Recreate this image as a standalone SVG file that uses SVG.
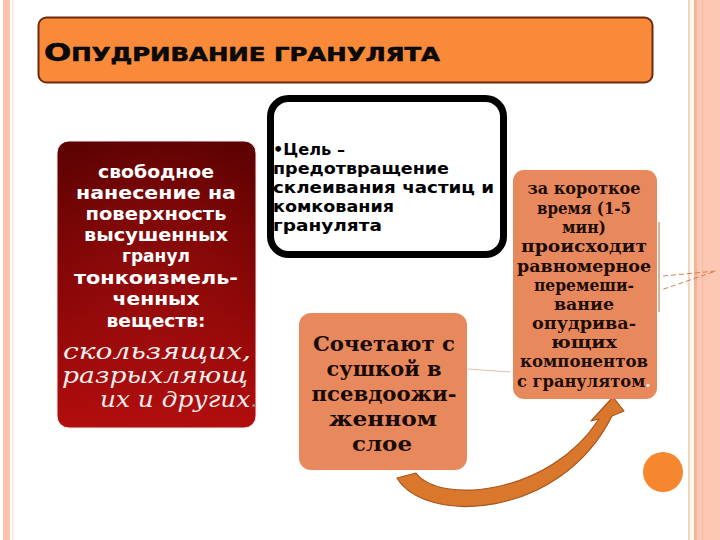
<svg xmlns="http://www.w3.org/2000/svg" width="720" height="540" viewBox="0 0 720 540">
  <defs>
    <linearGradient id="redGrad" x1="0" y1="0" x2="0" y2="1">
      <stop offset="0" stop-color="#5c0202"/>
      <stop offset="0.55" stop-color="#8a0606"/>
      <stop offset="1" stop-color="#b30d0d"/>
    </linearGradient>
    <radialGradient id="redGlow" cx="0.5" cy="0.5" r="0.6">
      <stop offset="0" stop-color="#b01818" stop-opacity="0.35"/>
      <stop offset="1" stop-color="#b01818" stop-opacity="0"/>
    </radialGradient>
    <style>
      text { }
      .sans { font-family: "DejaVu Sans", "Liberation Sans", sans-serif; font-weight: bold; }
      .serif { font-family: "DejaVu Serif", "Liberation Serif", serif; font-weight: bold; }
      .wt { fill: #ffffff; font-size: 17px; text-anchor: middle; }
      .it { fill: #f2eeee; font-family: "DejaVu Serif", "Liberation Serif", serif; font-style: italic; font-size: 22px; text-anchor: middle; }
      .bk { fill: #000000; font-size: 16px; }
      .mid { fill: #1a0a05; font-size: 21px; text-anchor: middle; }
      .rt { fill: #1e0c06; font-size: 16px; text-anchor: middle; }
      .orangeBox { fill: #e8895d; }
    </style>
  </defs>

  <!-- background and page borders -->
  <rect x="0" y="0" width="720" height="540" fill="#ffffff"/>
  <rect x="3" y="0" width="7" height="540" fill="#fcc4ac"/>
  <rect x="12" y="0" width="1.5" height="540" fill="#fde4d6"/>
  <rect x="688" y="0" width="2" height="540" fill="#f0d6c4"/>
  <rect x="690" y="0" width="4" height="540" fill="#fff6f0"/>
  <rect x="694" y="0" width="3" height="540" fill="#f2b49a"/>
  <rect x="697" y="0" width="23" height="540" fill="#fcc8b4"/>
  <rect x="702" y="0" width="1" height="540" fill="#f7b8a0"/>

  <!-- title -->
  <g id="title">
    <rect x="38.5" y="17.5" width="614" height="65" rx="8" fill="#f98a3a" stroke="#6e2a0e" stroke-width="2"/>
    <text x="44" y="61" class="sans" fill="#0a0a0a" stroke="#0a0a0a" stroke-width="0.6" textLength="396" lengthAdjust="spacingAndGlyphs"><tspan font-size="25">О</tspan><tspan font-size="19">ПУДРИВАНИЕ ГРАНУЛЯТА</tspan></text>
  </g>

  <!-- connectors -->
  <g id="connectors">
    <path d="M 397 478 C 425 525, 560 520, 612 416 L 624 411 L 613 397 L 591 421 L 599 419 C 550 495, 440 505, 416 473 Z" fill="#d9772d" stroke="#a5561e" stroke-width="1.2" stroke-linejoin="round"/>
    <line x1="468" y1="369" x2="510" y2="372" stroke="#e9bcaa" stroke-width="1"/>
    <line x1="659" y1="222" x2="659" y2="312" stroke="#b06a3a" stroke-width="1"/>
    <path d="M 663 276 L 716 271 L 661 290" fill="none" stroke="#d2804c" stroke-width="1" stroke-dasharray="5 3"/>
  </g>

  <!-- left red box -->
  <g id="node-left">
    <rect x="57" y="141" width="199" height="287" rx="12" fill="url(#redGrad)" stroke="#f4eeee" stroke-width="1"/>
    <rect x="57" y="141" width="199" height="287" rx="12" fill="url(#redGlow)"/>
    <text class="sans wt" x="156" y="178" textLength="116" lengthAdjust="spacingAndGlyphs">свободное</text>
    <text class="sans wt" x="156" y="199" textLength="160" lengthAdjust="spacingAndGlyphs">нанесение на</text>
    <text class="sans wt" x="156" y="220" textLength="141" lengthAdjust="spacingAndGlyphs">поверхность</text>
    <text class="sans wt" x="156" y="241" textLength="144" lengthAdjust="spacingAndGlyphs">высушенных</text>
    <text class="sans wt" x="156" y="262" textLength="68" lengthAdjust="spacingAndGlyphs">гранул</text>
    <text class="sans wt" x="156" y="284" textLength="164" lengthAdjust="spacingAndGlyphs">тонкоизмель-</text>
    <text class="sans wt" x="156" y="305" textLength="87" lengthAdjust="spacingAndGlyphs">ченных</text>
    <text class="sans wt" x="156" y="327" textLength="99" lengthAdjust="spacingAndGlyphs">веществ:</text>
    <text class="it" x="157" y="359" textLength="188" lengthAdjust="spacingAndGlyphs">скользящих,</text>
    <text class="it" x="155" y="383" textLength="186" lengthAdjust="spacingAndGlyphs">разрыхляющ</text>
    <text class="it" x="179" y="407" textLength="158" lengthAdjust="spacingAndGlyphs">их и других<tspan fill="#9a8a8a">.</tspan></text>
  </g>

  <!-- middle white box -->
  <g id="node-goal">
    <rect x="270.5" y="98.5" width="233" height="156" rx="18" fill="#ffffff" stroke="#000000" stroke-width="7"/>
    <text class="sans bk" x="273" y="155" textLength="72" lengthAdjust="spacingAndGlyphs">•Цель –</text>
    <text class="sans bk" x="273" y="174" textLength="176" lengthAdjust="spacingAndGlyphs">предотвращение</text>
    <text class="sans bk" x="273" y="193" textLength="221" lengthAdjust="spacingAndGlyphs">склеивания частиц и</text>
    <text class="sans bk" x="273" y="212" textLength="121" lengthAdjust="spacingAndGlyphs">комкования</text>
    <text class="sans bk" x="273" y="231" textLength="109" lengthAdjust="spacingAndGlyphs">гранулята</text>
  </g>

  <!-- middle orange box -->
  <g id="node-combine">
    <rect x="299" y="313" width="168" height="157" rx="12" class="orangeBox"/>
    <text class="serif mid" x="384" y="351" textLength="142" lengthAdjust="spacingAndGlyphs">Сочетают с</text>
    <text class="serif mid" x="384" y="376" textLength="115" lengthAdjust="spacingAndGlyphs">сушкой в</text>
    <text class="serif mid" x="384" y="401" textLength="145" lengthAdjust="spacingAndGlyphs">псевдоожи-</text>
    <text class="serif mid" x="383" y="426" textLength="108" lengthAdjust="spacingAndGlyphs">женном</text>
    <text class="serif mid" x="382" y="451" textLength="60" lengthAdjust="spacingAndGlyphs">слое</text>
  </g>

  <!-- right orange box -->
  <g id="node-time">
    <rect x="513" y="170" width="144" height="229" rx="11" class="orangeBox"/>
    <text class="serif rt" x="584" y="194" textLength="113" lengthAdjust="spacingAndGlyphs">за короткое</text>
    <text class="serif rt" x="584" y="214" textLength="94" lengthAdjust="spacingAndGlyphs">время (1-5</text>
    <text class="serif rt" x="584" y="233" textLength="44" lengthAdjust="spacingAndGlyphs">мин)</text>
    <text class="serif rt" x="584" y="252" textLength="126" lengthAdjust="spacingAndGlyphs">происходит</text>
    <text class="serif rt" x="584" y="272" textLength="134" lengthAdjust="spacingAndGlyphs">равномерное</text>
    <text class="serif rt" x="584" y="291" textLength="100" lengthAdjust="spacingAndGlyphs">перемеши-</text>
    <text class="serif rt" x="584" y="310" textLength="60" lengthAdjust="spacingAndGlyphs">вание</text>
    <text class="serif rt" x="584" y="329" textLength="104" lengthAdjust="spacingAndGlyphs">опудрива-</text>
    <text class="serif rt" x="584" y="348" textLength="66" lengthAdjust="spacingAndGlyphs">ющих</text>
    <text class="serif rt" x="584" y="367" textLength="128" lengthAdjust="spacingAndGlyphs">компонентов</text>
    <text class="serif rt" x="584" y="387" textLength="134" lengthAdjust="spacingAndGlyphs">с гранулятом<tspan fill="#f4e8e0">.</tspan></text>
  </g>

  <!-- decorative circle -->
  <circle cx="663" cy="472" r="20" fill="#f7872f"/>
</svg>
